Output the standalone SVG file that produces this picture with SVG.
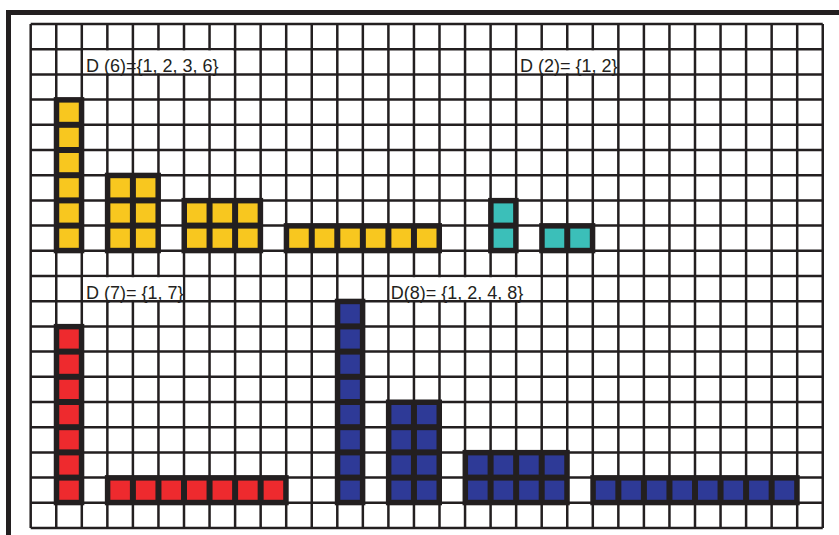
<svg xmlns="http://www.w3.org/2000/svg" width="839" height="535" viewBox="0 0 839 535">
<style>
.grid{fill:none;stroke:#231f20;stroke-width:2.5}
.frame{fill:none;stroke:#231f20;stroke-width:5}
.bk{fill:#231f20}
.y{fill:#f8c71f}
.t{fill:#3bbfb9}
.r{fill:#ee2a2e}
.b{fill:#2e3a97}
.lb{fill:#ffffff}
.tx{font-family:"Liberation Sans",Arial,sans-serif;font-size:18px;fill:#231f20}
</style>
<rect width="839" height="535" fill="#ffffff"/>
<rect class="frame" x="8.5" y="12.5" width="900" height="600"/>
<g id="grid">
<path class="grid" d="M30.7 24V528M56.25 24V528M81.8 24V528M107.35 24V528M132.9 24V528M158.45 24V528M184 24V528M209.55 24V528M235.1 24V528M260.65 24V528M286.2 24V528M311.75 24V528M337.3 24V528M362.85 24V528M388.4 24V528M413.95 24V528M439.5 24V528M465.05 24V528M490.6 24V528M516.15 24V528M541.7 24V528M567.25 24V528M592.8 24V528M618.35 24V528M643.9 24V528M669.45 24V528M695 24V528M720.55 24V528M746.1 24V528M771.65 24V528M797.2 24V528M822.75 24V528"/>
<path class="grid" d="M30.7 24H822.75M30.7 49.2H822.75M30.7 74.4H822.75M30.7 99.6H822.75M30.7 124.8H822.75M30.7 150H822.75M30.7 175.2H822.75M30.7 200.4H822.75M30.7 225.6H822.75M30.7 250.8H822.75M30.7 276H822.75M30.7 301.2H822.75M30.7 326.4H822.75M30.7 351.6H822.75M30.7 376.8H822.75M30.7 402H822.75M30.7 427.2H822.75M30.7 452.4H822.75M30.7 477.6H822.75M30.7 502.8H822.75M30.7 528H822.75"/>
</g>
<g id="label-d6">
<rect class="lb" x="83.05" y="50.45" width="150" height="22.7"/>
<path class="grid" d="M132.9 49.2V74.4"/>
<text class="tx" x="86" y="71.7">D (6)={1, 2, 3, 6}</text>
</g>
<g id="label-d2">
<rect class="lb" x="517.4" y="50.45" width="99.7" height="22.7"/>
<text class="tx" x="520" y="71.7">D (2)= {1, 2}</text>
</g>
<g id="label-d7">
<rect class="lb" x="83.05" y="277.25" width="99.7" height="22.7"/>
<text class="tx" x="86" y="298.5">D (7)= {1, 7}</text>
</g>
<g id="label-d8">
<rect class="lb" x="389.65" y="277.25" width="150.8" height="22.7"/>
<text class="tx" x="390.7" y="298.5">D(8)= {1, 2, 4, 8}</text>
</g>
<g id="bar-6x1">
<rect class="bk" x="53.75" y="97.1" width="30.55" height="156.2"/>
<rect class="y" x="59.25" y="102.6" width="19.55" height="19.2"/>
<rect class="y" x="59.25" y="127.8" width="19.55" height="19.2"/>
<rect class="y" x="59.25" y="153" width="19.55" height="19.2"/>
<rect class="y" x="59.25" y="178.2" width="19.55" height="19.2"/>
<rect class="y" x="59.25" y="203.4" width="19.55" height="19.2"/>
<rect class="y" x="59.25" y="228.6" width="19.55" height="19.2"/>
</g>
<g id="bar-3x2">
<rect class="bk" x="104.85" y="172.7" width="56.1" height="80.6"/>
<rect class="y" x="110.35" y="178.2" width="19.55" height="19.2"/>
<rect class="y" x="135.9" y="178.2" width="19.55" height="19.2"/>
<rect class="y" x="110.35" y="203.4" width="19.55" height="19.2"/>
<rect class="y" x="135.9" y="203.4" width="19.55" height="19.2"/>
<rect class="y" x="110.35" y="228.6" width="19.55" height="19.2"/>
<rect class="y" x="135.9" y="228.6" width="19.55" height="19.2"/>
</g>
<g id="bar-2x3">
<rect class="bk" x="181.5" y="197.9" width="81.65" height="55.4"/>
<rect class="y" x="187" y="203.4" width="19.55" height="19.2"/>
<rect class="y" x="212.55" y="203.4" width="19.55" height="19.2"/>
<rect class="y" x="238.1" y="203.4" width="19.55" height="19.2"/>
<rect class="y" x="187" y="228.6" width="19.55" height="19.2"/>
<rect class="y" x="212.55" y="228.6" width="19.55" height="19.2"/>
<rect class="y" x="238.1" y="228.6" width="19.55" height="19.2"/>
</g>
<g id="bar-1x6">
<rect class="bk" x="283.7" y="223.1" width="158.3" height="30.2"/>
<rect class="y" x="289.2" y="228.6" width="19.55" height="19.2"/>
<rect class="y" x="314.75" y="228.6" width="19.55" height="19.2"/>
<rect class="y" x="340.3" y="228.6" width="19.55" height="19.2"/>
<rect class="y" x="365.85" y="228.6" width="19.55" height="19.2"/>
<rect class="y" x="391.4" y="228.6" width="19.55" height="19.2"/>
<rect class="y" x="416.95" y="228.6" width="19.55" height="19.2"/>
</g>
<g id="bar-2x1">
<rect class="bk" x="488.1" y="197.9" width="30.55" height="55.4"/>
<rect class="t" x="493.6" y="203.4" width="19.55" height="19.2"/>
<rect class="t" x="493.6" y="228.6" width="19.55" height="19.2"/>
</g>
<g id="bar-1x2">
<rect class="bk" x="539.2" y="223.1" width="56.1" height="30.2"/>
<rect class="t" x="544.7" y="228.6" width="19.55" height="19.2"/>
<rect class="t" x="570.25" y="228.6" width="19.55" height="19.2"/>
</g>
<g id="bar-7x1">
<rect class="bk" x="53.75" y="323.9" width="30.55" height="181.4"/>
<rect class="r" x="59.25" y="329.4" width="19.55" height="19.2"/>
<rect class="r" x="59.25" y="354.6" width="19.55" height="19.2"/>
<rect class="r" x="59.25" y="379.8" width="19.55" height="19.2"/>
<rect class="r" x="59.25" y="405" width="19.55" height="19.2"/>
<rect class="r" x="59.25" y="430.2" width="19.55" height="19.2"/>
<rect class="r" x="59.25" y="455.4" width="19.55" height="19.2"/>
<rect class="r" x="59.25" y="480.6" width="19.55" height="19.2"/>
</g>
<g id="bar-1x7">
<rect class="bk" x="104.85" y="475.1" width="183.85" height="30.2"/>
<rect class="r" x="110.35" y="480.6" width="19.55" height="19.2"/>
<rect class="r" x="135.9" y="480.6" width="19.55" height="19.2"/>
<rect class="r" x="161.45" y="480.6" width="19.55" height="19.2"/>
<rect class="r" x="187" y="480.6" width="19.55" height="19.2"/>
<rect class="r" x="212.55" y="480.6" width="19.55" height="19.2"/>
<rect class="r" x="238.1" y="480.6" width="19.55" height="19.2"/>
<rect class="r" x="263.65" y="480.6" width="19.55" height="19.2"/>
</g>
<g id="bar-8x1">
<rect class="bk" x="334.8" y="298.7" width="30.55" height="206.6"/>
<rect class="b" x="340.3" y="304.2" width="19.55" height="19.2"/>
<rect class="b" x="340.3" y="329.4" width="19.55" height="19.2"/>
<rect class="b" x="340.3" y="354.6" width="19.55" height="19.2"/>
<rect class="b" x="340.3" y="379.8" width="19.55" height="19.2"/>
<rect class="b" x="340.3" y="405" width="19.55" height="19.2"/>
<rect class="b" x="340.3" y="430.2" width="19.55" height="19.2"/>
<rect class="b" x="340.3" y="455.4" width="19.55" height="19.2"/>
<rect class="b" x="340.3" y="480.6" width="19.55" height="19.2"/>
</g>
<g id="bar-4x2">
<rect class="bk" x="385.9" y="399.5" width="56.1" height="105.8"/>
<rect class="b" x="391.4" y="405" width="19.55" height="19.2"/>
<rect class="b" x="416.95" y="405" width="19.55" height="19.2"/>
<rect class="b" x="391.4" y="430.2" width="19.55" height="19.2"/>
<rect class="b" x="416.95" y="430.2" width="19.55" height="19.2"/>
<rect class="b" x="391.4" y="455.4" width="19.55" height="19.2"/>
<rect class="b" x="416.95" y="455.4" width="19.55" height="19.2"/>
<rect class="b" x="391.4" y="480.6" width="19.55" height="19.2"/>
<rect class="b" x="416.95" y="480.6" width="19.55" height="19.2"/>
</g>
<g id="bar-2x4">
<rect class="bk" x="462.55" y="449.9" width="107.2" height="55.4"/>
<rect class="b" x="468.05" y="455.4" width="19.55" height="19.2"/>
<rect class="b" x="493.6" y="455.4" width="19.55" height="19.2"/>
<rect class="b" x="519.15" y="455.4" width="19.55" height="19.2"/>
<rect class="b" x="544.7" y="455.4" width="19.55" height="19.2"/>
<rect class="b" x="468.05" y="480.6" width="19.55" height="19.2"/>
<rect class="b" x="493.6" y="480.6" width="19.55" height="19.2"/>
<rect class="b" x="519.15" y="480.6" width="19.55" height="19.2"/>
<rect class="b" x="544.7" y="480.6" width="19.55" height="19.2"/>
</g>
<g id="bar-1x8">
<rect class="bk" x="590.3" y="475.1" width="209.4" height="30.2"/>
<rect class="b" x="595.8" y="480.6" width="19.55" height="19.2"/>
<rect class="b" x="621.35" y="480.6" width="19.55" height="19.2"/>
<rect class="b" x="646.9" y="480.6" width="19.55" height="19.2"/>
<rect class="b" x="672.45" y="480.6" width="19.55" height="19.2"/>
<rect class="b" x="698" y="480.6" width="19.55" height="19.2"/>
<rect class="b" x="723.55" y="480.6" width="19.55" height="19.2"/>
<rect class="b" x="749.1" y="480.6" width="19.55" height="19.2"/>
<rect class="b" x="774.65" y="480.6" width="19.55" height="19.2"/>
</g>
</svg>
